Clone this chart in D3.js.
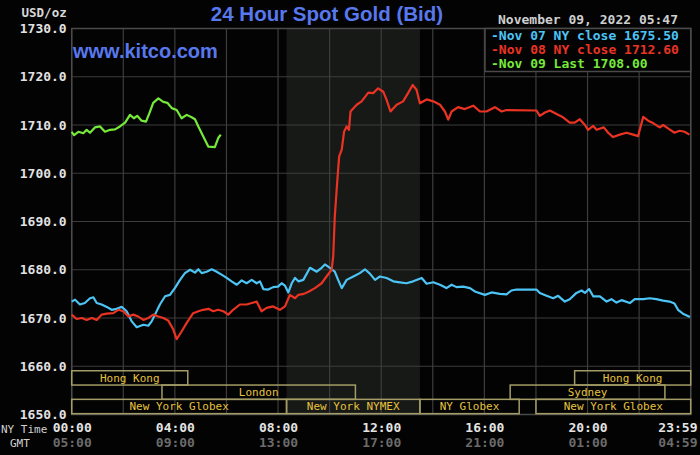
<!DOCTYPE html>
<html>
<head>
<meta charset="utf-8">
<script src="https://cdn.jsdelivr.net/npm/d3@7"></script>
<style>
  html, body { margin: 0; padding: 0; background: #000; }
  svg { display: block; }
</style>
</head>
<body>
<svg id="chart" width="700" height="455"></svg>
<script>
// price axis
const priceTicks = [1650, 1660, 1670, 1680, 1690, 1700, 1710, 1720, 1730];

// time axis (hours since 00:00 NY time)
const labelHours = [0, 4, 8, 12, 16, 20, 24];
const nyTimeLabels = ['00:00', '04:00', '08:00', '12:00', '16:00', '20:00', '23:59'];
const gmtLabels = ['05:00', '09:00', '13:00', '17:00', '21:00', '01:00', '04:59'];

// Nov 07 (blue)
const nov07Hours = [0, 0.13, 0.32, 0.51, 0.71, 0.84, 0.97, 1.16, 1.36, 1.55, 1.74, 1.94, 2.13, 2.33, 2.52, 2.78, 2.97, 3.10, 3.23, 3.42,
  3.62, 3.81, 4.00, 4.20, 4.39, 4.59, 4.78, 4.91, 5.04, 5.23, 5.43, 5.62, 5.81, 6.01, 6.20, 6.40, 6.59, 6.78, 6.98, 7.17,
  7.30, 7.43, 7.62, 7.81, 8.00, 8.14, 8.27, 8.40, 8.53, 8.66, 8.79, 8.98, 9.24, 9.50, 9.69, 9.82, 10.01, 10.20, 10.33, 10.47,
  10.66, 10.92, 11.17, 11.37, 11.56, 11.76, 11.95, 12.21, 12.47, 12.72, 12.98, 13.24, 13.57, 13.76, 14.02, 14.28, 14.53, 14.73, 14.92, 15.18,
  15.44, 15.63, 16.02, 16.28, 16.60, 16.86, 17.05, 17.24, 18.02, 18.15, 18.41, 18.67, 18.86, 19.12, 19.31, 19.57, 19.77, 19.90, 20.06, 20.22,
  20.48, 20.74, 20.93, 21.12, 21.32, 21.64, 21.83, 22.16, 22.41, 22.67, 22.93, 23.18, 23.37, 23.51, 23.70, 23.97];
const nov07Prices = [1673.4, 1673.8, 1672.8, 1673.1, 1674.1, 1674.3, 1673.1, 1672.8, 1672.3, 1671.7, 1671.9, 1672.3, 1671.4, 1669.3, 1668.1, 1668.6, 1668.4, 1669.3, 1670.7, 1672.8,
  1674.5, 1674.8, 1676.2, 1677.9, 1679.3, 1680.0, 1679.4, 1680.1, 1679.3, 1679.6, 1680.1, 1679.6, 1679.0, 1678.3, 1677.6, 1676.9, 1677.8, 1677.2, 1677.9, 1677.2,
  1677.6, 1676.0, 1675.9, 1676.4, 1676.5, 1677.2, 1676.7, 1675.3, 1677.2, 1678.3, 1677.6, 1677.9, 1680.4, 1679.6, 1680.4, 1681.1, 1680.4, 1679.6, 1677.9, 1676.2,
  1677.9, 1678.6, 1679.3, 1680.1, 1679.2, 1677.9, 1678.6, 1678.3, 1677.6, 1677.4, 1677.2, 1677.6, 1678.3, 1677.1, 1677.4, 1676.9, 1676.2, 1676.9, 1676.4, 1676.5,
  1676.2, 1675.5, 1674.8, 1675.3, 1675.0, 1674.9, 1675.7, 1675.9, 1675.9, 1675.2, 1674.6, 1674.1, 1674.6, 1673.4, 1673.9, 1675.2, 1675.7, 1675.2, 1676.0, 1674.5,
  1674.5, 1673.4, 1673.9, 1673.2, 1673.7, 1673.1, 1673.9, 1673.9, 1674.1, 1673.9, 1673.6, 1673.4, 1673.0, 1671.7, 1670.9, 1670.2];

// Nov 08 (red)
const nov08Hours = [0, 0.19, 0.39, 0.58, 0.78, 0.97, 1.16, 1.36, 1.61, 1.81, 2.00, 2.20, 2.39, 2.58, 2.78, 2.97, 3.16, 3.36, 3.55, 3.74,
  3.94, 4.07, 4.26, 4.46, 4.71, 4.91, 5.10, 5.30, 5.49, 5.68, 5.88, 6.07, 6.26, 6.52, 6.78, 6.98, 7.17, 7.36, 7.56, 7.81,
  8.07, 8.27, 8.46, 8.66, 8.79, 9.00, 9.20, 9.43, 9.69, 9.88, 10.08, 10.14, 10.20, 10.30, 10.37, 10.47, 10.56, 10.66, 10.75, 10.81,
  11.05, 11.24, 11.50, 11.69, 11.88, 12.08, 12.21, 12.36, 12.60, 12.85, 13.04, 13.22, 13.37, 13.50, 13.76, 14.02, 14.28, 14.47, 14.60, 14.73,
  14.98, 15.24, 15.57, 15.83, 16.08, 16.41, 16.67, 16.86, 18.02, 18.15, 18.35, 18.54, 18.80, 19.05, 19.31, 19.50, 19.70, 19.90, 20.02, 20.22,
  20.35, 20.63, 20.80, 20.99, 21.25, 21.51, 21.77, 21.96, 22.16, 22.35, 22.54, 22.80, 22.93, 23.18, 23.37, 23.57, 23.76, 23.95];
const nov08Prices = [1670.7, 1669.8, 1670.0, 1669.6, 1670.0, 1669.6, 1670.7, 1670.9, 1671.0, 1671.7, 1671.4, 1670.3, 1670.7, 1670.3, 1669.6, 1670.0, 1670.7, 1670.3, 1670.0, 1669.5,
  1667.6, 1665.6, 1667.2, 1669.0, 1671.0, 1671.4, 1671.7, 1671.9, 1671.4, 1671.7, 1671.4, 1670.7, 1671.7, 1672.8, 1672.8, 1673.1, 1673.4, 1671.4, 1672.1, 1672.4,
  1671.7, 1672.4, 1674.8, 1674.1, 1674.8, 1675.0, 1675.5, 1676.2, 1677.2, 1678.6, 1680.0, 1682.8, 1691.0, 1698.6, 1703.5, 1704.9, 1708.6, 1709.7, 1709.0, 1712.8,
  1714.2, 1714.9, 1716.7, 1716.6, 1717.6, 1716.9, 1715.2, 1712.8, 1714.2, 1714.9, 1716.6, 1718.3, 1717.3, 1714.5, 1715.3, 1714.9, 1714.2, 1712.8, 1711.1, 1712.8,
  1713.7, 1713.3, 1714.0, 1712.8, 1712.8, 1713.7, 1712.8, 1713.1, 1713.0, 1711.9, 1712.6, 1713.0, 1712.3, 1711.6, 1710.5, 1710.5, 1711.2, 1710.0, 1709.0, 1709.8,
  1709.0, 1709.5, 1708.4, 1707.5, 1708.0, 1708.4, 1708.0, 1707.7, 1711.7, 1710.9, 1710.4, 1709.5, 1710.0, 1709.1, 1708.4, 1708.8, 1708.6, 1708.0];

// Nov 09 (green), up to 05:47
const nov09Hours = [0, 0.09, 0.26, 0.45, 0.58, 0.71, 0.90, 1.10, 1.29, 1.49, 1.68, 1.87, 2.07, 2.26, 2.41, 2.54, 2.71, 2.88, 3.01, 3.16,
  3.36, 3.55, 3.71, 3.88, 4.07, 4.26, 4.46, 4.65, 4.78, 4.91, 5.04, 5.17, 5.30, 5.55, 5.68, 5.78];
const nov09Prices = [1708.6, 1707.9, 1708.6, 1708.3, 1709.0, 1708.4, 1709.5, 1709.7, 1708.6, 1709.0, 1709.1, 1709.7, 1710.5, 1712.1, 1711.4, 1711.9, 1710.9, 1710.7, 1712.4, 1714.6,
  1715.5, 1714.8, 1714.6, 1713.5, 1713.1, 1711.4, 1712.1, 1711.6, 1711.2, 1709.7, 1708.3, 1706.9, 1705.5, 1705.4, 1707.3, 1708.0];

const legendLabels = ['-Nov 07 NY close 1675.50', '-Nov 08 NY close 1712.60', '-Nov 09 Last 1708.00'];

// trading sessions (hours NY time), row 0 = top
const sessionNames = ['Hong Kong', 'London', 'New York Globex', 'New York NYMEX', 'NY Globex', 'Sydney', 'New York Globex', 'Hong Kong'];
const sessionStarts = [0, 3.5, 0, 8.33, 13.5, 17, 18, 19.5];
const sessionEnds = [4.5, 11, 8.33, 13.5, 17.35, 23, 24, 24];
const sessionRows = [0, 1, 2, 2, 2, 1, 2, 0];
const nymexWindow = [8.33, 13.5];

(function () {
  const svg = d3.select('#chart');
  const SERIES_COLORS = ['#4cc4f5', '#ea3323', '#76ea3a'];
  const MONO = "'DejaVu Sans Mono', monospace";
  const SANS = "'Liberation Sans', Arial, sans-serif";
  const left = 71.7;
  const right = 690.7;
  const top = 28.5;
  const bottom = 414.5;

  const x = d3.scaleLinear().domain([0, 24]).range([left, right]);
  const y = d3.scaleLinear().domain([1650, 1730]).range([bottom, top]);

  svg.append('rect').attr('width', 700).attr('height', 455).attr('fill', '#030303');

  // NYMEX pit hours shading
  svg.append('rect')
    .attr('x', x(nymexWindow[0]))
    .attr('y', top)
    .attr('width', x(nymexWindow[1]) - x(nymexWindow[0]))
    .attr('height', bottom - top)
    .attr('fill', '#171917');

  // grid
  const grid = svg.append('g').attr('stroke', '#3d3d3d').attr('stroke-width', 1.2);
  grid.selectAll('line.h')
    .data(priceTicks)
    .join('line')
    .attr('class', 'h')
    .attr('x1', left).attr('x2', right)
    .attr('y1', d => y(d)).attr('y2', d => y(d));
  grid.selectAll('line.v')
    .data(d3.range(0, 25, 2))
    .join('line')
    .attr('class', 'v')
    .attr('x1', d => x(d)).attr('x2', d => x(d))
    .attr('y1', top).attr('y2', bottom);

  svg.append('rect')
    .attr('x', left).attr('y', top)
    .attr('width', right - left).attr('height', bottom - top)
    .attr('fill', 'none').attr('stroke', '#4a4a4a').attr('stroke-width', 1.5);

  // y axis labels
  const yAxis = svg.append('g')
    .attr('transform', 'translate(' + (left - 5) + ',0)')
    .call(d3.axisLeft(y).tickValues(priceTicks).tickSize(0).tickPadding(0).tickFormat(d3.format('.1f')));
  yAxis.select('.domain').remove();
  yAxis.selectAll('text')
    .attr('fill', '#e2e2e2')
    .style('font', 'bold 13px ' + MONO);

  svg.append('text')
    .attr('x', left - 5).attr('y', 17)
    .attr('text-anchor', 'end')
    .attr('fill', '#d8d8d8')
    .style('font', 'bold 12.5px ' + MONO)
    .text('USD/oz');

  // x axis labels (NY time and GMT)
  function addTimeAxis (labels, yPos, color) {
    const axis = svg.append('g')
      .attr('transform', 'translate(0,' + yPos + ')')
      .call(d3.axisBottom(x).tickValues(labelHours).tickSize(0).tickPadding(0)
        .tickFormat(function (d, i) { return labels[i]; }));
    axis.select('.domain').remove();
    axis.selectAll('text')
      .attr('fill', color)
      .attr('dy', 0)
      .style('font', 'bold 13px ' + MONO);
    axis.selectAll('.tick:last-of-type text')
      .attr('text-anchor', 'end')
      .attr('x', 700 - 3 - right);
  }
  addTimeAxis(nyTimeLabels, 431.5, '#e4e4e4');
  addTimeAxis(gmtLabels, 446.5, '#6b6b6b');

  svg.append('text').attr('x', 1).attr('y', 433)
    .attr('fill', '#d0d0d0').style('font', '11px ' + MONO).text('NY Time');
  svg.append('text').attr('x', 10).attr('y', 447)
    .attr('fill', '#d0d0d0').style('font', '11px ' + MONO).text('GMT');

  // session boxes
  const rowTop = y(1660) + 4.5;
  const rowHeight = 14.3;
  const sessions = svg.append('g');
  sessionNames.forEach(function (name, i) {
    const x0 = x(sessionStarts[i]);
    const x1 = x(sessionEnds[i]);
    const y0 = rowTop + sessionRows[i] * rowHeight;
    sessions.append('rect')
      .attr('x', x0).attr('y', y0)
      .attr('width', x1 - x0).attr('height', rowHeight)
      .attr('fill', 'none')
      .attr('stroke', '#a39c66')
      .attr('stroke-width', 1.5);
    sessions.append('text')
      .attr('x', (x0 + x1) / 2).attr('y', y0 + rowHeight - 3.5)
      .attr('text-anchor', 'middle')
      .attr('fill', '#e6c23e')
      .style('font', '11px ' + MONO)
      .text(name);
  });

  // price lines
  const line = d3.line()
    .x(d => x(d[0]))
    .y(d => y(d[1]));
  [[nov07Hours, nov07Prices], [nov08Hours, nov08Prices], [nov09Hours, nov09Prices]].forEach(function (s, i) {
    svg.append('path')
      .datum(d3.zip(s[0], s[1]))
      .attr('d', line)
      .attr('fill', 'none')
      .attr('stroke', SERIES_COLORS[i])
      .attr('stroke-width', 2.2)
      .attr('stroke-linejoin', 'round');
  });

  // title, site, timestamp
  svg.append('text')
    .attr('x', 327).attr('y', 21)
    .attr('text-anchor', 'middle')
    .attr('fill', '#5878ee')
    .style('font', 'bold 20.5px ' + SANS)
    .text('24 Hour Spot Gold (Bid)');
  svg.append('text')
    .attr('x', 73).attr('y', 58)
    .attr('fill', '#5878ee')
    .style('font', 'bold 20px ' + SANS)
    .text('www.kitco.com');
  svg.append('text')
    .attr('x', 498).attr('y', 23.5)
    .attr('fill', '#cfcfcf')
    .style('font', 'bold 13px ' + MONO)
    .text('November 09, 2022 05:47');

  // legend
  svg.append('rect')
    .attr('x', 485).attr('y', top)
    .attr('width', right - 485).attr('height', 43)
    .attr('fill', '#030303')
    .attr('stroke', '#4a4a4a').attr('stroke-width', 1.5);
  svg.selectAll('text.legend')
    .data(legendLabels)
    .join('text')
    .attr('class', 'legend')
    .attr('x', 491)
    .attr('y', (d, i) => 39.5 + i * 14)
    .attr('fill', (d, i) => SERIES_COLORS[i])
    .style('font', 'bold 13px ' + MONO)
    .text(d => d);
}());
</script>
</body>
</html>
